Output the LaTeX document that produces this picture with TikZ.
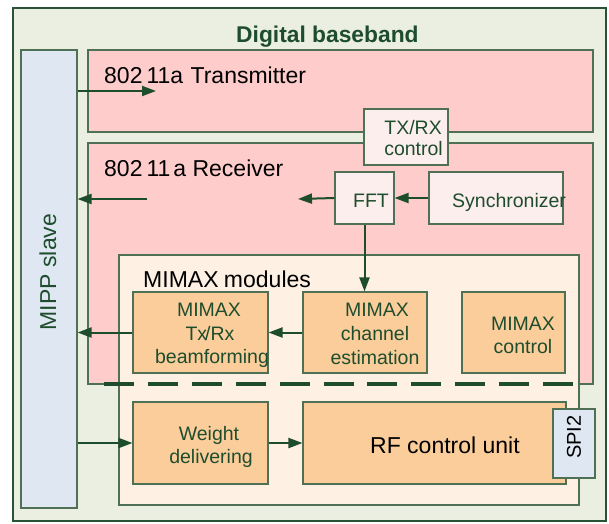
\documentclass[tikz,border=0pt]{standalone}
\usepackage{fontspec}
\setmainfont{Liberation Sans}
\usetikzlibrary{arrows.meta}
\definecolor{outerfill}{RGB}{235,239,225}
\definecolor{mippfill}{RGB}{223,231,242}
\definecolor{pinkfill}{RGB}{255,204,204}
\definecolor{lpink}{RGB}{253,238,238}
\definecolor{cream}{RGB}{254,240,226}
\definecolor{orangefill}{RGB}{251,205,155}
\definecolor{dgreen}{RGB}{30,77,45}
\definecolor{bordc}{RGB}{80,112,85}
\newcommand\fbig{\fontsize{23}{27}\selectfont}
\newcommand\fsm{\fontsize{19.5}{24}\selectfont}
\tikzset{
  blk/.style={draw=bordc, line width=1.1pt, rectangle, inner sep=0pt},
  blacktxt/.style={inner sep=0pt, font=\fbig, text=black},
  greentxt/.style={inner sep=0pt, font=\fsm, text=dgreen},
  arr/.style={draw=dgreen, line width=2pt, -{Triangle[length=14pt,width=10pt]}},
  sepline/.style={draw=dgreen, line width=4pt, dash pattern=on 30pt off 13.9pt}
}
\begin{document}
\begin{tikzpicture}[x=1pt,y=-1pt]
\useasboundingbox (0,0) rectangle (609,523);
% containers
\node[blk, fill=outerfill, draw=dgreen!80!bordc, minimum width=593pt, minimum height=513pt] (outer) at (309.5,264.5) {};
\node[blk, fill=mippfill, minimum width=56pt, minimum height=458pt] (mipp) at (49,279) {};
\node[blk, fill=pinkfill, minimum width=505pt, minimum height=82pt] (trans) at (340.5,91) {};
\node[blk, fill=pinkfill, minimum width=505pt, minimum height=241pt] (recv) at (340.5,263.5) {};
\node[blk, fill=lpink, minimum width=84pt, minimum height=56pt] (txrx) at (406,137) {};
\node[blk, fill=lpink, minimum width=59pt, minimum height=52pt] (fft) at (364.5,198) {};
\node[blk, fill=lpink, minimum width=134pt, minimum height=52pt] (sync) at (496,198) {};
\node[blk, fill=cream, minimum width=460pt, minimum height=250pt] (mods) at (349,380) {};
\node[blk, fill=orangefill, minimum width=135pt, minimum height=81pt] (bf) at (200.5,332.5) {};
\node[blk, fill=orangefill, minimum width=124pt, minimum height=81pt] (ce) at (365,332.5) {};
\node[blk, fill=orangefill, minimum width=103pt, minimum height=81pt] (mc) at (513.5,332.5) {};
\node[blk, fill=orangefill, minimum width=135pt, minimum height=82pt] (wd) at (200.5,443) {};
\node[blk, fill=orangefill, minimum width=263pt, minimum height=82pt] (rf) at (434.5,443) {};
\node[blk, fill=mippfill, minimum width=42pt, minimum height=69pt] (spi) at (574,443.5) {};
% dashed separator
\coordinate (dashL) at (104,384);
\coordinate (dashR) at (573,384);
\draw[sepline] (dashL) -- (dashR);
% texts
\node[inner sep=0pt, anchor=base west, font=\fontsize{22.8}{26}\selectfont\bfseries, text=dgreen] (title) at (236,42.5) {Digital baseband};
\node[inner sep=0pt, rotate=90, font=\fontsize{23}{26}\selectfont, text=dgreen] (mipptxt) at (48,272) {MIPP\ slave};
\node[blacktxt, anchor=base west] (transtxt) at (104,83) {802\kern4pt 11a\ \kern1pt Transmitter};
\node[blacktxt, anchor=base west] (recvtxt) at (104,176.5) {802\kern4pt 11\kern3pt a Receiver};
\node[blacktxt, anchor=base west] (modtxt) at (143,287) {MIMAX\kern-1pt\ modules};
\node[greentxt, anchor=base east] (txrxa) at (442,134) {TX/RX};
\node[greentxt, anchor=base east] (txrxb) at (443,155) {control};
\node[greentxt, anchor=base] (ffttxt) at (371,207) {FFT};
\node[greentxt, anchor=base west] (synctxt) at (452,207) {Synchronizer};
\node[greentxt, anchor=base] (bfa) at (209,316) {MIMAX};
\node[greentxt, anchor=base] (bfb) at (210,340) {Tx\kern-2pt/Rx};
\node[greentxt, anchor=base] (bfc) at (212,363) {beamforming};
\node[greentxt, anchor=base] (cea) at (377,316) {MIMAX};
\node[greentxt, anchor=base] (ceb) at (375,340) {channel};
\node[greentxt, anchor=base] (cec) at (375,364) {estimation};
\node[greentxt, anchor=base] (mca) at (523,330) {MIMAX};
\node[greentxt, anchor=base] (mcb) at (523,353) {control};
\node[greentxt, anchor=base] (wda) at (209,440) {Weight};
\node[greentxt, anchor=base] (wdb) at (211,463) {delivering};
\node[blacktxt, anchor=base west] (rftxt) at (370,453) {RF control unit};
\node[inner sep=0pt, rotate=90, font=\fontsize{20}{24}\selectfont, text=black] (spitxt) at (574,437) {SPI2};
% arrows
\coordinate (txend) at (156,91);
\coordinate (rxstart) at (147,199);
\coordinate (fftend) at (298,199);
\draw[arr] (mipp.east |- txend) -- (txend);
\draw[arr] (rxstart) -- (mipp.east |- rxstart);
\draw[arr] (fft.west) -- (fftend);
\draw[arr] (sync.west) -- (fft.east);
\draw[arr] (fft.south) -- (fft.south |- ce.north);
\draw[arr] (ce.west) -- (bf.east);
\draw[arr] (bf.west) -- (mipp.east |- bf.west);
\draw[arr] (mipp.east |- wd.west) -- (wd.west);
\draw[arr] (wd.east) -- (rf.west);
\end{tikzpicture}
\end{document}
